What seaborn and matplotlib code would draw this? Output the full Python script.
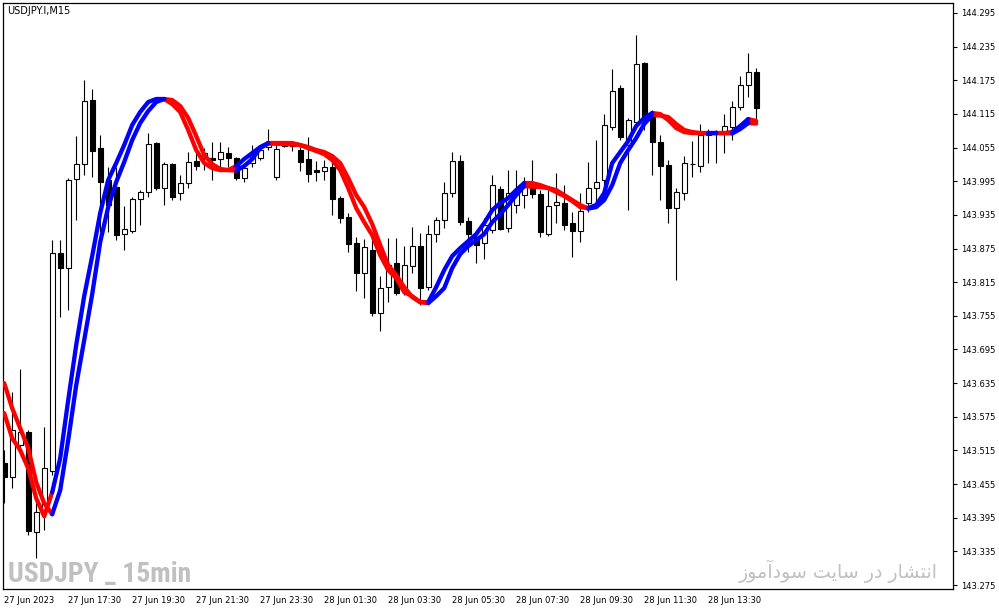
import os
import pandas as pd
import numpy as np
import matplotlib
matplotlib.use('Agg')
import matplotlib.pyplot as plt
from matplotlib import font_manager
import seaborn as sns

# ---- chart data (USDJPY M15, 27-28 Jun 2023) ----
symbol_label = 'USDJPY.I,M15'
watermark_left = 'USDJPY _ 15min'
# "انتشار در سایت سودآموز" written in Arabic presentation forms, visual order,
# because matplotlib does not shape right-to-left text itself
watermark_right = ('\uFEAF\uFEEE\uFEE3\uFE81\uFEA9\uFEEE\uFEB3 '
                   '\uFE96\uFEF3\uFE8E\uFEB3 '
                   '\uFEAD\uFEA9 '
                   '\uFEAD\uFE8E\uFEB8\uFE98\uFEE7\uFE8D')

time_labels = ['27 Jun 2023', '27 Jun 17:30', '27 Jun 19:30', '27 Jun 21:30',
               '27 Jun 23:30', '28 Jun 01:30', '28 Jun 03:30', '28 Jun 05:30',
               '28 Jun 07:30', '28 Jun 09:30', '28 Jun 11:30', '28 Jun 13:30']
price_ticks = [143.275, 143.335, 143.395, 143.455, 143.515, 143.575, 143.635,
               143.695, 143.755, 143.815, 143.875, 143.935, 143.995, 144.055,
               144.115, 144.175, 144.235, 144.295]

opens = [143.492, 143.467, 143.524, 143.547, 143.369, 143.408, 143.478, 143.867,
         143.840, 143.999, 144.026, 144.140, 144.054, 143.997, 143.985, 143.901,
         143.906, 143.963, 143.976, 144.063, 143.983, 144.026, 143.974, 143.992,
         144.031, 144.036, 144.036, 144.035, 144.045, 144.036, 144.001, 144.027,
         144.036, 144.056, 144.002, 144.058, 144.063, 144.051, 144.035, 144.015,
         144.013, 144.020, 143.965, 143.931, 143.885, 143.831, 143.872, 143.760,
         143.806, 143.849, 143.801, 143.844, 143.879, 143.806, 143.901, 143.926,
         143.974, 144.031, 143.924, 143.895, 143.885, 143.908, 143.981, 143.911,
         143.952, 143.970, 143.983, 143.972, 143.901, 143.952, 143.956, 143.920,
         143.906, 143.956, 143.983, 143.997, 144.092, 144.161, 144.060, 144.101,
         144.206, 144.109, 144.065, 144.024, 143.947, 143.974, 144.026, 144.022,
         144.077, 144.081, 144.081, 144.092, 144.127, 144.167, 144.190]
highs = [143.515, 143.619, 143.660, 143.551, 143.439, 143.556, 143.890, 143.890,
         144.001, 144.076, 144.175, 144.159, 144.077, 144.020, 144.020, 143.951,
         143.967, 143.979, 144.081, 144.065, 144.029, 144.027, 144.006, 144.047,
         144.047, 144.054, 144.065, 144.065, 144.056, 144.038, 144.024, 144.060,
         144.056, 144.088, 144.060, 144.067, 144.067, 144.056, 144.074, 144.031,
         144.033, 144.033, 143.969, 143.938, 143.895, 143.892, 143.904, 143.826,
         143.894, 143.894, 143.879, 143.913, 143.903, 143.917, 143.931, 143.994,
         144.047, 144.042, 143.931, 143.908, 143.929, 144.006, 143.986, 144.015,
         144.015, 144.002, 144.033, 143.979, 143.979, 144.010, 143.988, 143.940,
         143.974, 144.029, 144.068, 144.115, 144.195, 144.167, 144.108, 144.256,
         144.208, 144.122, 144.077, 144.033, 143.983, 144.040, 144.067, 144.097,
         144.088, 144.086, 144.115, 144.138, 144.183, 144.224, 144.197]
lows = [143.421, 143.448, 143.512, 143.365, 143.324, 143.373, 143.471, 143.753,
        143.765, 143.926, 144.006, 144.002, 143.904, 143.904, 143.890, 143.872,
        143.903, 143.917, 143.967, 143.979, 143.952, 143.961, 143.961, 143.983,
        144.015, 144.015, 143.997, 144.018, 144.020, 143.997, 143.994, 144.020,
        144.033, 144.051, 143.997, 144.056, 144.049, 144.013, 143.994, 143.995,
        143.997, 143.935, 143.920, 143.869, 143.799, 143.787, 143.754, 143.728,
        143.779, 143.792, 143.792, 143.831, 143.774, 143.801, 143.886, 143.911,
        143.967, 143.917, 143.869, 143.849, 143.856, 143.903, 143.908, 143.904,
        143.938, 143.947, 143.965, 143.895, 143.897, 143.920, 143.908, 143.860,
        143.886, 143.940, 143.958, 143.970, 144.086, 144.068, 143.944, 144.095,
        144.086, 144.006, 143.961, 143.920, 143.819, 143.961, 144.002, 144.011,
        144.027, 144.027, 144.045, 144.068, 144.122, 144.145, 144.104]
closes = [143.467, 143.551, 143.547, 143.371, 143.405, 143.483, 143.867, 143.840,
          143.997, 144.026, 144.138, 144.049, 143.994, 143.952, 143.899, 143.910,
          143.963, 143.976, 144.061, 143.983, 144.026, 143.967, 143.992, 144.029,
          144.022, 144.045, 144.033, 144.047, 144.036, 144.001, 144.018, 144.042,
          144.051, 144.065, 144.052, 144.061, 144.058, 144.029, 144.008, 144.011,
          144.020, 143.963, 143.929, 143.883, 143.831, 143.878, 143.760, 143.804,
          143.845, 143.795, 143.845, 143.879, 143.804, 143.901, 143.926, 143.974,
          144.031, 143.922, 143.901, 143.881, 143.917, 143.988, 143.910, 143.974,
          143.979, 143.988, 143.972, 143.904, 143.951, 143.958, 143.917, 143.906,
          143.942, 143.983, 143.994, 144.095, 144.156, 144.074, 144.104, 144.204,
          144.108, 144.065, 144.022, 143.947, 143.976, 144.027, 144.025, 144.077,
          144.083, 144.080, 144.093, 144.127, 144.167, 144.190, 144.126]

fast_line = [143.5814, 143.5368, 143.5153, 143.4832, 143.4297, 143.3976, 143.4404, 143.5011,
             143.6046, 143.7027, 143.7901, 143.8615, 143.9382, 143.9971, 144.0274, 144.0595,
             144.0952, 144.1184, 144.1362, 144.1416, 144.1416, 144.1326, 144.1184, 144.0863,
             144.0506, 144.0274, 144.0185, 144.0149, 144.0149, 144.0220, 144.0345, 144.0452,
             144.0559, 144.0631, 144.0631, 144.0631, 144.0631, 144.0595, 144.0541, 144.0488,
             144.0434, 144.0327, 144.0149, 143.9828, 143.9471, 143.9221, 143.8989, 143.8632,
             143.8365, 143.8222, 143.7972, 143.7901, 143.7794, 143.7794, 143.8062, 143.8365,
             143.8615, 143.8757, 143.8882, 143.9007, 143.9203, 143.9435, 143.9560, 143.9649,
             143.9792, 143.9917, 143.9917, 143.9881, 143.9828, 143.9756, 143.9685, 143.9596,
             143.9489, 143.9471, 143.9525, 143.9739, 144.0274, 144.0470, 144.0666, 144.0934,
             144.1077, 144.1166, 144.1148, 144.1041, 144.0898, 144.0827, 144.0809, 144.0809,
             144.0809, 144.0809, 144.0809, 144.0827, 144.0934, 144.1059, 144.1023]
slow_line = [143.6349, 143.5903, 143.5546, 143.5189, 143.4583, 143.4208, 143.4012, 143.4440,
             143.5332, 143.6313, 143.7116, 143.7937, 143.8864, 143.9489, 143.9935, 144.0292,
             144.0684, 144.0987, 144.1202, 144.1362, 144.1416, 144.1398, 144.1291, 144.1077,
             144.0756, 144.0417, 144.0256, 144.0167, 144.0149, 144.0140, 144.0220, 144.0345,
             144.0541, 144.0622, 144.0618, 144.0613, 144.0607, 144.0595, 144.0559, 144.0506,
             144.0470, 144.0399, 144.0274, 144.0006, 143.9703, 143.9489, 143.9186, 143.8811,
             143.8454, 143.8276, 143.8062, 143.7883, 143.7794, 143.7776, 143.7901, 143.8044,
             143.8401, 143.8650, 143.8793, 143.8900, 143.9007, 143.9221, 143.9364, 143.9525,
             143.9703, 143.9863, 143.9855, 143.9846, 143.9828, 143.9792, 143.9703, 143.9614,
             143.9525, 143.9462, 143.9489, 143.9614, 143.9881, 144.0274, 144.0506, 144.0720,
             144.0970, 144.1130, 144.1121, 144.1095, 144.0970, 144.0863, 144.0827, 144.0809,
             144.0804, 144.0809, 144.0806, 144.0802, 144.0880, 144.0987, 144.0979]

n_bars = len(opens)
bars = np.arange(n_bars)

# ---- style ----
sns.set_style('white')
plt.rcParams['font.family'] = ['DejaVu Sans']


def condensed_bold_font():
    # look for a narrow bold face for the big watermark
    best = None
    for f in font_manager.fontManager.ttflist:
        nm = f.name.lower()
        fn = os.path.basename(f.fname).lower()
        narrow = ('narrow' in nm or 'condensed' in nm or 'narrow' in fn
                  or 'condensed' in fn or str(f.stretch) in ('condensed', 'semi-condensed',
                                                             'extra-condensed'))
        bold = 'bold' in fn or str(f.weight) in ('bold', '700', 'heavy', '800', '900', 'black')
        if narrow and bold and 'italic' not in fn and 'oblique' not in fn and 'mono' not in fn:
            rank = 0 if 'liberation' in fn else (1 if 'roboto' in fn else 2)
            if best is None or rank < best[0]:
                best = (rank, f.fname)
    if best:
        return font_manager.FontProperties(fname=best[1])
    return font_manager.FontProperties(family='DejaVu Sans', weight='bold')


W, H = 999, 609
fig = plt.figure(figsize=(W / 100, H / 100), dpi=100)
fig.patch.set_facecolor('white')
ax = fig.add_axes([3 / W, 20 / H, 950 / W, 586 / H])
ax.set_facecolor('white')

# candles
o = np.array(opens); c = np.array(closes)
up = c >= o
ax.vlines(bars, lows, highs, color='black', linewidth=0.8, zorder=1)
ax.bar(bars, c - o, bottom=o, width=0.6,
       color=np.where(up, 'white', 'black'), edgecolor='black',
       linewidth=0.8, zorder=2)

# two smoothed lines, coloured by direction of the slow line
steps = []
state = 'down'
for k in range(1, n_bars):
    d = slow_line[k] - slow_line[k - 1]
    if d > 0:
        state = 'up'
    elif d < 0:
        state = 'down'
    steps.append(state)

rows = []
run = 0
for name, vals in (('slow', slow_line), ('fast', fast_line)):
    for k in range(1, n_bars):
        if k == 1 or steps[k - 1] != steps[k - 2]:
            run += 1
            rows.append((name, run, k - 1, vals[k - 1], steps[k - 1]))
        rows.append((name, run, k, vals[k], steps[k - 1]))
df_lines = pd.DataFrame(rows, columns=['line', 'run', 'bar', 'price', 'trend'])

sns.lineplot(data=df_lines, x='bar', y='price', hue='trend', units='run',
             estimator=None, sort=False, legend=False, ax=ax,
             palette={'up': '#0000ff', 'down': '#ff0000'},
             linewidth=3.1, solid_capstyle='round', zorder=3)

# axes
ax.set_xlim(-0.15, -0.15 + 950 / 8)
ax.set_ylim(143.2679, 144.3128)
ax.set_xlabel('')
ax.set_ylabel('')
for sp in ax.spines.values():
    sp.set_visible(True)
    sp.set_color('black')
    sp.set_linewidth(0.9)

ax.yaxis.tick_right()
ax.set_yticks(price_ticks)
ax.set_yticklabels([f'{v:.3f}' for v in price_ticks])
ax.set_xticks(np.arange(len(time_labels)) * 8)
ax.set_xticklabels(time_labels, ha='left')
ax.tick_params(axis='both', direction='out', length=3, width=0.8,
               labelsize=6, pad=2, colors='black')
ax.tick_params(axis='y', pad=3)

# texts
fig.text(7 / W, 1 - 10.5 / H, symbol_label, fontsize=7, color='black',
         va='center', ha='left')
wm_font = condensed_bold_font()
wm_font.set_size(24)
t_left = ax.text((8 - 3) / 950, (589 - 582) / 586, watermark_left, transform=ax.transAxes,
                 fontproperties=wm_font, color='#c0c0c0', ha='left', va='baseline')
t_right = ax.text((938 - 3) / 950, (589 - 578) / 586, watermark_right, transform=ax.transAxes,
                  family=['DejaVu Sans'], fontsize=14, color='#c0c0c0',
                  ha='right', va='baseline')

# fit watermark widths to the reference
fig.canvas.draw()
renderer = fig.canvas.get_renderer()
for t, target in ((t_left, 184), (t_right, 200)):
    w = t.get_window_extent(renderer).width
    t.set_fontsize(t.get_fontsize() * target / w)

fig.savefig('out.png', dpi=100, facecolor='white')
